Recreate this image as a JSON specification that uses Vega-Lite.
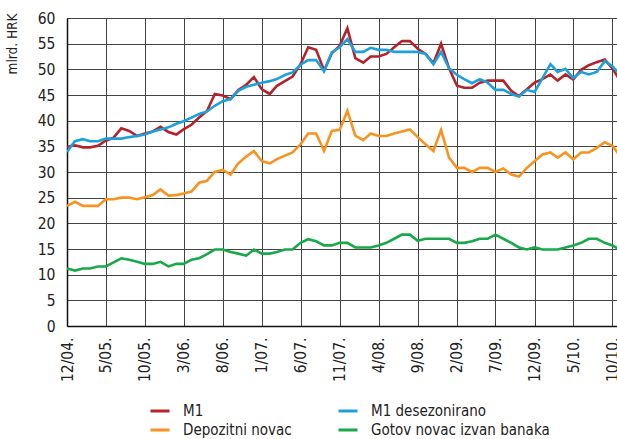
{
  "$schema": "https://vega.github.io/schema/vega-lite/v6.json",
  "width": 550,
  "height": 308,
  "autosize": {"type": "none"},
  "padding": {"left": 67, "top": 18, "right": 0, "bottom": 113},
  "background": "white",
  "config": {"view": {"stroke": null}, "font": "'Liberation Sans Narrow', 'DejaVu Sans Condensed', 'Roboto Condensed', sans-serif"},
  "data": {"values": [
    {"date":"2004-12-01","M1":34.9,"M1 desezonirano":33.9,"Depozitni novac":23.4,"Gotov novac izvan banaka":11.2},
    {"date":"2005-01-01","M1":35.2,"M1 desezonirano":36.0,"Depozitni novac":24.2,"Gotov novac izvan banaka":10.8},
    {"date":"2005-02-01","M1":34.8,"M1 desezonirano":36.4,"Depozitni novac":23.4,"Gotov novac izvan banaka":11.2},
    {"date":"2005-03-01","M1":34.8,"M1 desezonirano":36.0,"Depozitni novac":23.4,"Gotov novac izvan banaka":11.2},
    {"date":"2005-04-01","M1":35.1,"M1 desezonirano":36.0,"Depozitni novac":23.4,"Gotov novac izvan banaka":11.6},
    {"date":"2005-05-01","M1":36.1,"M1 desezonirano":36.5,"Depozitni novac":24.7,"Gotov novac izvan banaka":11.6},
    {"date":"2005-06-01","M1":36.7,"M1 desezonirano":36.5,"Depozitni novac":24.7,"Gotov novac izvan banaka":12.4},
    {"date":"2005-07-01","M1":38.5,"M1 desezonirano":36.5,"Depozitni novac":25.0,"Gotov novac izvan banaka":13.2},
    {"date":"2005-08-01","M1":38.0,"M1 desezonirano":36.8,"Depozitni novac":25.0,"Gotov novac izvan banaka":12.9},
    {"date":"2005-09-01","M1":37.0,"M1 desezonirano":37.0,"Depozitni novac":24.7,"Gotov novac izvan banaka":12.5},
    {"date":"2005-10-01","M1":37.5,"M1 desezonirano":37.3,"Depozitni novac":25.1,"Gotov novac izvan banaka":12.1},
    {"date":"2005-11-01","M1":37.9,"M1 desezonirano":37.9,"Depozitni novac":25.5,"Gotov novac izvan banaka":12.1},
    {"date":"2005-12-01","M1":38.8,"M1 desezonirano":38.3,"Depozitni novac":26.6,"Gotov novac izvan banaka":12.5},
    {"date":"2006-01-01","M1":37.8,"M1 desezonirano":38.7,"Depozitni novac":25.4,"Gotov novac izvan banaka":11.6},
    {"date":"2006-02-01","M1":37.3,"M1 desezonirano":39.4,"Depozitni novac":25.5,"Gotov novac izvan banaka":12.1},
    {"date":"2006-03-01","M1":38.3,"M1 desezonirano":39.9,"Depozitni novac":25.8,"Gotov novac izvan banaka":12.1},
    {"date":"2006-04-01","M1":39.2,"M1 desezonirano":40.6,"Depozitni novac":26.2,"Gotov novac izvan banaka":12.9},
    {"date":"2006-05-01","M1":40.6,"M1 desezonirano":41.3,"Depozitni novac":27.9,"Gotov novac izvan banaka":13.2},
    {"date":"2006-06-01","M1":41.9,"M1 desezonirano":41.8,"Depozitni novac":28.3,"Gotov novac izvan banaka":14.0},
    {"date":"2006-07-01","M1":45.2,"M1 desezonirano":42.9,"Depozitni novac":30.0,"Gotov novac izvan banaka":14.9},
    {"date":"2006-08-01","M1":44.9,"M1 desezonirano":43.8,"Depozitni novac":30.4,"Gotov novac izvan banaka":14.9},
    {"date":"2006-09-01","M1":44.2,"M1 desezonirano":44.2,"Depozitni novac":29.5,"Gotov novac izvan banaka":14.4},
    {"date":"2006-10-01","M1":46.0,"M1 desezonirano":45.8,"Depozitni novac":31.7,"Gotov novac izvan banaka":14.1},
    {"date":"2006-11-01","M1":47.0,"M1 desezonirano":46.6,"Depozitni novac":33.0,"Gotov novac izvan banaka":13.7},
    {"date":"2006-12-01","M1":48.5,"M1 desezonirano":47.0,"Depozitni novac":34.1,"Gotov novac izvan banaka":14.9},
    {"date":"2007-01-01","M1":46.1,"M1 desezonirano":47.4,"Depozitni novac":32.1,"Gotov novac izvan banaka":14.1},
    {"date":"2007-02-01","M1":45.2,"M1 desezonirano":47.7,"Depozitni novac":31.7,"Gotov novac izvan banaka":14.1},
    {"date":"2007-03-01","M1":46.8,"M1 desezonirano":48.1,"Depozitni novac":32.5,"Gotov novac izvan banaka":14.4},
    {"date":"2007-04-01","M1":47.7,"M1 desezonirano":48.9,"Depozitni novac":33.2,"Gotov novac izvan banaka":14.9},
    {"date":"2007-05-01","M1":48.6,"M1 desezonirano":49.4,"Depozitni novac":33.8,"Gotov novac izvan banaka":14.9},
    {"date":"2007-06-01","M1":51.0,"M1 desezonirano":50.9,"Depozitni novac":35.4,"Gotov novac izvan banaka":16.2},
    {"date":"2007-07-01","M1":54.3,"M1 desezonirano":51.8,"Depozitni novac":37.5,"Gotov novac izvan banaka":16.9},
    {"date":"2007-08-01","M1":53.8,"M1 desezonirano":51.8,"Depozitni novac":37.5,"Gotov novac izvan banaka":16.5},
    {"date":"2007-09-01","M1":49.8,"M1 desezonirano":49.6,"Depozitni novac":34.1,"Gotov novac izvan banaka":15.7},
    {"date":"2007-10-01","M1":53.1,"M1 desezonirano":53.3,"Depozitni novac":38.0,"Gotov novac izvan banaka":15.7},
    {"date":"2007-11-01","M1":54.6,"M1 desezonirano":54.3,"Depozitni novac":38.2,"Gotov novac izvan banaka":16.2},
    {"date":"2007-12-01","M1":58.0,"M1 desezonirano":55.9,"Depozitni novac":41.9,"Gotov novac izvan banaka":16.2},
    {"date":"2008-01-01","M1":52.2,"M1 desezonirano":53.4,"Depozitni novac":37.1,"Gotov novac izvan banaka":15.3},
    {"date":"2008-02-01","M1":51.3,"M1 desezonirano":53.4,"Depozitni novac":36.2,"Gotov novac izvan banaka":15.3},
    {"date":"2008-03-01","M1":52.5,"M1 desezonirano":54.2,"Depozitni novac":37.5,"Gotov novac izvan banaka":15.3},
    {"date":"2008-04-01","M1":52.5,"M1 desezonirano":53.8,"Depozitni novac":37.0,"Gotov novac izvan banaka":15.7},
    {"date":"2008-05-01","M1":53.0,"M1 desezonirano":53.8,"Depozitni novac":37.0,"Gotov novac izvan banaka":16.2},
    {"date":"2008-06-01","M1":54.3,"M1 desezonirano":53.4,"Depozitni novac":37.5,"Gotov novac izvan banaka":17.0},
    {"date":"2008-07-01","M1":55.5,"M1 desezonirano":53.4,"Depozitni novac":37.9,"Gotov novac izvan banaka":17.8},
    {"date":"2008-08-01","M1":55.5,"M1 desezonirano":53.4,"Depozitni novac":38.3,"Gotov novac izvan banaka":17.8},
    {"date":"2008-09-01","M1":54.0,"M1 desezonirano":53.4,"Depozitni novac":36.8,"Gotov novac izvan banaka":16.6},
    {"date":"2008-10-01","M1":53.0,"M1 desezonirano":53.0,"Depozitni novac":35.4,"Gotov novac izvan banaka":17.0},
    {"date":"2008-11-01","M1":51.2,"M1 desezonirano":51.0,"Depozitni novac":34.1,"Gotov novac izvan banaka":17.0},
    {"date":"2008-12-01","M1":55.0,"M1 desezonirano":53.4,"Depozitni novac":38.2,"Gotov novac izvan banaka":17.0},
    {"date":"2009-01-01","M1":50.2,"M1 desezonirano":50.2,"Depozitni novac":32.8,"Gotov novac izvan banaka":17.0},
    {"date":"2009-02-01","M1":46.8,"M1 desezonirano":48.9,"Depozitni novac":30.8,"Gotov novac izvan banaka":16.2},
    {"date":"2009-03-01","M1":46.4,"M1 desezonirano":48.1,"Depozitni novac":30.8,"Gotov novac izvan banaka":16.2},
    {"date":"2009-04-01","M1":46.4,"M1 desezonirano":47.3,"Depozitni novac":30.0,"Gotov novac izvan banaka":16.5},
    {"date":"2009-05-01","M1":47.4,"M1 desezonirano":48.1,"Depozitni novac":30.8,"Gotov novac izvan banaka":17.0},
    {"date":"2009-06-01","M1":47.8,"M1 desezonirano":47.4,"Depozitni novac":30.8,"Gotov novac izvan banaka":17.0},
    {"date":"2009-07-01","M1":47.8,"M1 desezonirano":46.0,"Depozitni novac":30.0,"Gotov novac izvan banaka":17.8},
    {"date":"2009-08-01","M1":47.8,"M1 desezonirano":46.0,"Depozitni novac":30.7,"Gotov novac izvan banaka":17.0},
    {"date":"2009-09-01","M1":45.8,"M1 desezonirano":45.2,"Depozitni novac":29.5,"Gotov novac izvan banaka":16.2},
    {"date":"2009-10-01","M1":44.8,"M1 desezonirano":44.7,"Depozitni novac":29.1,"Gotov novac izvan banaka":15.3},
    {"date":"2009-11-01","M1":46.1,"M1 desezonirano":46.0,"Depozitni novac":30.8,"Gotov novac izvan banaka":14.9},
    {"date":"2009-12-01","M1":47.4,"M1 desezonirano":45.6,"Depozitni novac":32.1,"Gotov novac izvan banaka":15.3},
    {"date":"2010-01-01","M1":48.1,"M1 desezonirano":48.3,"Depozitni novac":33.4,"Gotov novac izvan banaka":14.9},
    {"date":"2010-02-01","M1":49.0,"M1 desezonirano":51.0,"Depozitni novac":33.8,"Gotov novac izvan banaka":14.9},
    {"date":"2010-03-01","M1":47.8,"M1 desezonirano":49.5,"Depozitni novac":32.8,"Gotov novac izvan banaka":14.9},
    {"date":"2010-04-01","M1":49.0,"M1 desezonirano":50.1,"Depozitni novac":33.8,"Gotov novac izvan banaka":15.3},
    {"date":"2010-05-01","M1":48.0,"M1 desezonirano":48.3,"Depozitni novac":32.5,"Gotov novac izvan banaka":15.7},
    {"date":"2010-06-01","M1":49.9,"M1 desezonirano":49.5,"Depozitni novac":33.8,"Gotov novac izvan banaka":16.2},
    {"date":"2010-07-01","M1":50.8,"M1 desezonirano":49.0,"Depozitni novac":33.8,"Gotov novac izvan banaka":17.0},
    {"date":"2010-08-01","M1":51.4,"M1 desezonirano":49.5,"Depozitni novac":34.7,"Gotov novac izvan banaka":17.0},
    {"date":"2010-09-01","M1":51.9,"M1 desezonirano":51.6,"Depozitni novac":35.8,"Gotov novac izvan banaka":16.2},
    {"date":"2010-10-01","M1":50.2,"M1 desezonirano":50.6,"Depozitni novac":35.1,"Gotov novac izvan banaka":15.7},
    {"date":"2010-11-01","M1":47.7,"M1 desezonirano":48.9,"Depozitni novac":33.1,"Gotov novac izvan banaka":14.8}
  ]},
  "transform": [
    {"fold": ["M1", "M1 desezonirano", "Depozitni novac", "Gotov novac izvan banaka"], "as": ["serija", "vrijednost"]}
  ],
  "mark": {"type": "line", "strokeWidth": 2.6, "clip": true},
  "encoding": {
    "x": {
      "field": "date",
      "type": "temporal",
      "scale": {
        "type": "utc",
        "domain": [
          {"year": 2004, "month": 12, "date": 1, "utc": true},
          {"year": 2010, "month": 10, "date": 19, "utc": true}
        ]
      },
      "axis": {
        "title": null,
        "values": [
          {"year": 2004, "month": 12, "date": 1, "utc": true},
          {"year": 2005, "month": 5, "date": 1, "utc": true},
          {"year": 2005, "month": 10, "date": 1, "utc": true},
          {"year": 2006, "month": 3, "date": 1, "utc": true},
          {"year": 2006, "month": 8, "date": 1, "utc": true},
          {"year": 2007, "month": 1, "date": 1, "utc": true},
          {"year": 2007, "month": 6, "date": 1, "utc": true},
          {"year": 2007, "month": 11, "date": 1, "utc": true},
          {"year": 2008, "month": 4, "date": 1, "utc": true},
          {"year": 2008, "month": 9, "date": 1, "utc": true},
          {"year": 2009, "month": 2, "date": 1, "utc": true},
          {"year": 2009, "month": 7, "date": 1, "utc": true},
          {"year": 2009, "month": 12, "date": 1, "utc": true},
          {"year": 2010, "month": 5, "date": 1, "utc": true},
          {"year": 2010, "month": 10, "date": 1, "utc": true}
        ],
        "labelExpr": "utcFormat(datum.value, '%-m/%y.')",
        "labelAngle": 270,
        "labelFontSize": 15.5,
        "labelColor": "#222",
        "labelPadding": 11,
        "labelFlush": false,
        "labelOverlap": false,
        "ticks": false,
        "domainColor": "#111",
        "domainWidth": 1.5,
        "grid": true,
        "gridColor": "#444",
        "gridWidth": 1
      }
    },
    "y": {
      "field": "vrijednost",
      "type": "quantitative",
      "scale": {"domain": [0, 60], "nice": false, "zero": true},
      "axis": {
        "title": "mlrd. HRK",
        "titleFontSize": 13.5,
        "titleFontWeight": "normal",
        "titleColor": "#222",
        "titleAngle": 270,
        "titleAlign": "right",
        "titleBaseline": "middle",
        "titleX": -55,
        "titleY": -5,
        "values": [0, 5, 10, 15, 20, 25, 30, 35, 40, 45, 50, 55, 60],
        "labelFontSize": 15.5,
        "labelColor": "#222",
        "labelPadding": 12,
        "ticks": false,
        "domainColor": "#111",
        "domainWidth": 1.5,
        "grid": true,
        "gridColor": "#444",
        "gridWidth": 1
      }
    },
    "color": {
      "field": "serija",
      "type": "nominal",
      "scale": {
        "domain": ["M1", "M1 desezonirano", "Depozitni novac", "Gotov novac izvan banaka"],
        "range": ["#B3232A", "#1DA1DC", "#F7931E", "#19A94A"]
      },
      "legend": {
        "title": null,
        "orient": "none",
        "legendX": 82,
        "legendY": 382,
        "direction": "horizontal",
        "columns": 2,
        "symbolType": "stroke",
        "symbolSize": 361,
        "symbolStrokeWidth": 3,
        "labelFontSize": 15,
        "labelLimit": 300,
        "labelColor": "#222",
        "labelOffset": 12,
        "columnPadding": 40,
        "rowPadding": 0
      }
    }
  }
}
